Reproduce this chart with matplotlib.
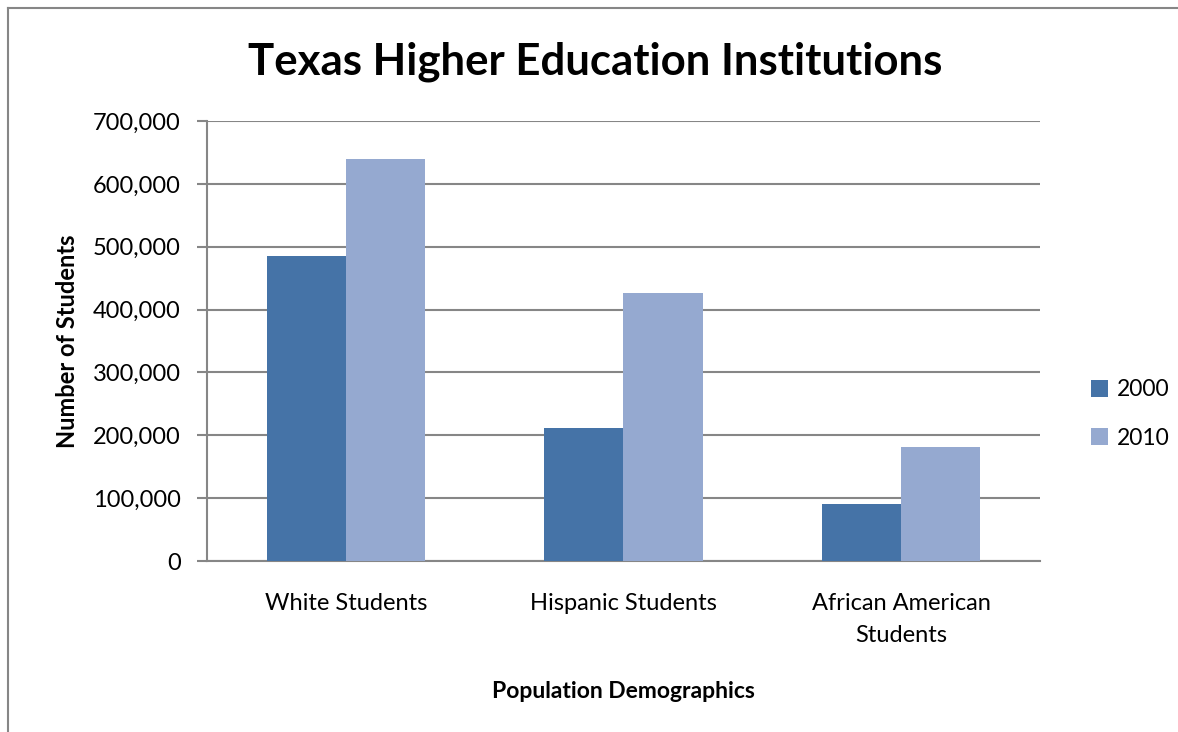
import matplotlib
matplotlib.use("Agg")
import matplotlib.pyplot as plt
import numpy as np
from matplotlib.ticker import FuncFormatter, MultipleLocator
from matplotlib.lines import Line2D

categories = ["White Students", "Hispanic Students", "African American\nStudents"]
series_names = ["2000", "2010"]
values_2000 = [486000, 211000, 91000]
values_2010 = [639000, 426000, 181000]
colors = ["#4573A7", "#95A9D0"]

plt.rcParams['font.family'] = ['Lato', 'DejaVu Sans']

fig = plt.figure(figsize=(11.78, 7.32), dpi=100)
W, H = 1178, 732
ax = fig.add_axes([207 / W, 1 - 561 / H, (1040 - 207) / W, (561 - 121) / H])

x = np.arange(len(categories))
bw = 0.285
ax.bar(x - bw / 2, values_2000, bw, color=colors[0], label=series_names[0], zorder=3)
ax.bar(x + bw / 2, values_2010, bw, color=colors[1], label=series_names[1], zorder=3)

ax.set_xlim(-0.5, len(categories) - 0.5)
ax.set_ylim(0, 700000)
ax.yaxis.set_major_locator(MultipleLocator(100000))
ax.yaxis.set_major_formatter(FuncFormatter(lambda v, p: f"{int(v):,}"))
ax.grid(axis='y', color='#868686', linewidth=1.5, zorder=0)
ax.set_axisbelow(True)

for s in ['top', 'right']:
    ax.spines[s].set_visible(False)
for s in ['left', 'bottom']:
    ax.spines[s].set_color('#868686')
    ax.spines[s].set_linewidth(1.5)

ax.set_xticks(x)
ax.set_xticklabels(categories, fontsize=17, linespacing=1.65)
ax.tick_params(axis='x', length=0, pad=23)
ax.tick_params(axis='y', length=7, width=1.5, color='#868686', labelsize=17, pad=12)

ax.set_xlabel("Population Demographics", fontsize=16.5, fontweight='bold', labelpad=25)
ax.set_ylabel("Number of Students", fontsize=17, fontweight='bold', labelpad=10)

fig.suptitle("Texas Higher Education Institutions", fontsize=31.5, fontweight='bold',
             x=(248 + 942) / 2 / W, y=1 - 62 / H, va='center')

leg = fig.legend(loc='center left', bbox_to_anchor=(1070 / W, 1 - 414 / H), frameon=False,
                 fontsize=16.5, handlelength=0.75, handleheight=0.75, labelspacing=1.2,
                 handletextpad=0.4)

# outer border (left and top)
fig.add_artist(Line2D([8 / W, 8 / W], [0, 1 - 8 / H], transform=fig.transFigure,
                      color='#868686', linewidth=1.5))
fig.add_artist(Line2D([8 / W, 1], [1 - 8 / H, 1 - 8 / H], transform=fig.transFigure,
                      color='#868686', linewidth=1.5))

fig.savefig("out.png", dpi=100, facecolor='white')
